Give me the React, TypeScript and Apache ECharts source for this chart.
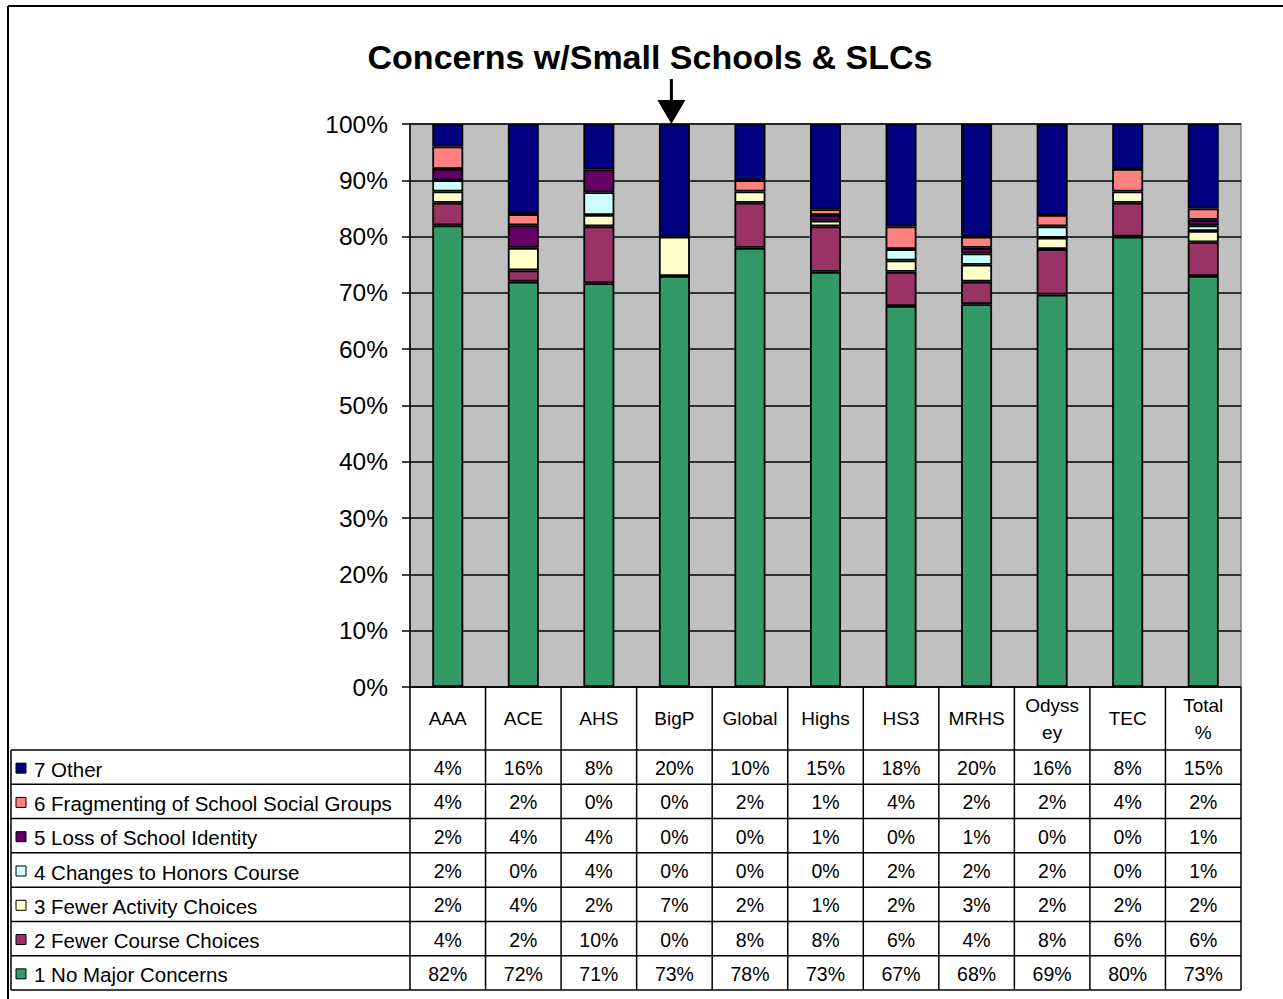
import React, { useEffect, useRef } from "react";
import * as echarts from "echarts";

const categories = ["AAA", "ACE", "AHS", "BigP", "Global", "Highs", "HS3", "MRHS", "Odyssey", "TEC", "Total %"];
const headerLabels = ["AAA", "ACE", "AHS", "BigP", "Global", "Highs", "HS3", "MRHS", "Odyss\ney", "TEC", "Total\n%"];
const seriesNames = [
  "1 No Major Concerns",
  "2 Fewer Course Choices",
  "3 Fewer Activity Choices",
  "4 Changes to Honors Course",
  "5 Loss of School Identity",
  "6 Fragmenting of School Social Groups",
  "7 Other",
];
const noMajor = [82, 72, 71, 73, 78, 73, 67, 68, 69, 80, 73];
const fewerCourse = [4, 2, 10, 0, 8, 8, 6, 4, 8, 6, 6];
const fewerActivity = [2, 4, 2, 7, 2, 1, 2, 3, 2, 2, 2];
const honors = [2, 0, 4, 0, 0, 0, 2, 2, 2, 0, 1];
const identity = [2, 4, 4, 0, 0, 1, 0, 1, 0, 0, 1];
const fragmenting = [4, 2, 0, 0, 2, 1, 4, 2, 2, 4, 2];
const other = [4, 16, 8, 20, 10, 15, 18, 20, 16, 8, 15];
const colors = ["#339966", "#993366", "#FFFFCC", "#CCFFFF", "#660066", "#FF8080", "#000080"];
const yTicks = [0, 10, 20, 30, 40, 50, 60, 70, 80, 90, 100];

const FONT = "'Liberation Sans', Arial, sans-serif";

export default function App() {
  const ref = useRef<HTMLDivElement>(null);
  useEffect(() => {
    document.body.style.margin = "0";
    document.body.style.overflow = "hidden";
    const chart = echarts.init(ref.current!, null, { renderer: "svg" });
    const allSeries = [noMajor, fewerCourse, fewerActivity, honors, identity, fragmenting, other];
    const sums = categories.map((_, i) => allSeries.reduce((s, arr) => s + arr[i], 0));

    const GL = 410, GT = 124, GW = 831, GH = 563;
    const colW = GW / categories.length;
    const TL = 11;
    const headerBottom = 750;
    const tableBottom = 990;
    const rowH = (tableBottom - headerBottom) / 7;

    const graphics: any[] = [];
    const line = (x1: number, y1: number, x2: number, y2: number, w = 1.5, c = "#000") =>
      graphics.push({ type: "line", silent: true, shape: { x1, y1, x2, y2 }, style: { stroke: c, lineWidth: w }, z: 10 });

    // chart border
    line(8, 6, 1283, 6, 2);
    line(8, 6, 8, 999, 2);

    // table grid
    for (let i = 0; i <= categories.length; i++) {
      const x = GL + i * colW;
      line(x, GT + GH, x, tableBottom);
    }
    for (let r = 0; r <= 7; r++) {
      const y = headerBottom + r * rowH;
      line(TL, y, GL + GW, y);
    }
    line(TL, headerBottom, TL, tableBottom);

    // header labels
    headerLabels.forEach((lab, i) => {
      graphics.push({
        type: "text",
        silent: true,
        style: {
          text: lab,
          x: GL + (i + 0.5) * colW,
          y: (GT + GH + headerBottom) / 2,
          align: "center",
          verticalAlign: "middle",
          fontSize: 19,
          fontFamily: FONT,
          lineHeight: 27,
          fill: "#000",
        },
        z: 11,
      });
    });

    // rows: top row = 7 Other
    for (let r = 0; r < 7; r++) {
      const sIdx = 6 - r;
      const cy = headerBottom + (r + 0.5) * rowH;
      graphics.push({
        type: "rect",
        silent: true,
        shape: { x: 16, y: cy - 4, width: 10, height: 10 },
        style: { fill: colors[sIdx], stroke: "#000", lineWidth: 1 },
        z: 11,
      });
      graphics.push({
        type: "text",
        silent: true,
        style: {
          text: seriesNames[sIdx],
          x: 34,
          y: cy + 2,
          align: "left",
          verticalAlign: "middle",
          fontSize: 20.5,
          fontFamily: FONT,
          fill: "#000",
        },
        z: 11,
      });
      allSeries[sIdx].forEach((v, i) => {
        graphics.push({
          type: "text",
          silent: true,
          style: {
            text: v + "%",
            x: GL + (i + 0.5) * colW,
            y: cy + 1,
            align: "center",
            verticalAlign: "middle",
            fontSize: 19.5,
            fontFamily: FONT,
            fill: "#000",
          },
          z: 11,
        });
      });
    }

    // arrow pointing to BigP
    const ax = GL + 3.5 * colW - 3;
    line(ax, 79, ax, 103, 3);
    graphics.push({
      type: "polygon",
      silent: true,
      shape: { points: [[ax - 14, 100], [ax + 14, 100], [ax, GT]] },
      style: { fill: "#000" },
      z: 12,
    });

    chart.setOption({
      animation: false,
      backgroundColor: "#fff",
      title: {
        text: "Concerns w/Small Schools & SLCs",
        left: 645,
        top: 35,
        textAlign: "center",
        textStyle: { fontSize: 34, fontWeight: "bold", fontFamily: FONT, color: "#000" },
      },
      grid: {
        left: GL,
        top: GT,
        width: GW,
        height: GH,
        show: true,
        backgroundColor: "#C0C0C0",
        borderColor: "#808080",
        borderWidth: 1.5,
      },
      xAxis: {
        type: "category",
        data: categories,
        axisLine: { show: true, lineStyle: { color: "#000", width: 1.5 } },
        axisTick: { show: false },
        axisLabel: { show: false },
        splitLine: { show: false },
      },
      yAxis: {
        type: "value",
        min: 0,
        max: 100,
        interval: 10,
        axisLine: { show: true, lineStyle: { color: "#000", width: 1.5 } },
        axisTick: { show: true, inside: false, length: 8, lineStyle: { color: "#000", width: 1.5 } },
        axisLabel: {
          formatter: (v: number) => (yTicks.includes(v) ? v + "%" : ""),
          fontSize: 24.5,
          fontFamily: FONT,
          color: "#000",
          margin: 22,
        },
        splitLine: { show: true, lineStyle: { color: "#000", width: 1.5 } },
      },
      series: allSeries.map((arr, k) => ({
        name: seriesNames[k],
        type: "bar",
        stack: "total",
        barWidth: 31,
        data: arr.map((v, i) => (v === 0 ? null : (v / sums[i]) * 100)),
        itemStyle: { color: colors[k], borderColor: "#000", borderWidth: 1.8 },
      })),
      graphic: graphics,
    });
    return () => chart.dispose();
  }, []);
  return <div ref={ref} style={{ width: 1283, height: 999 }} />;
}
